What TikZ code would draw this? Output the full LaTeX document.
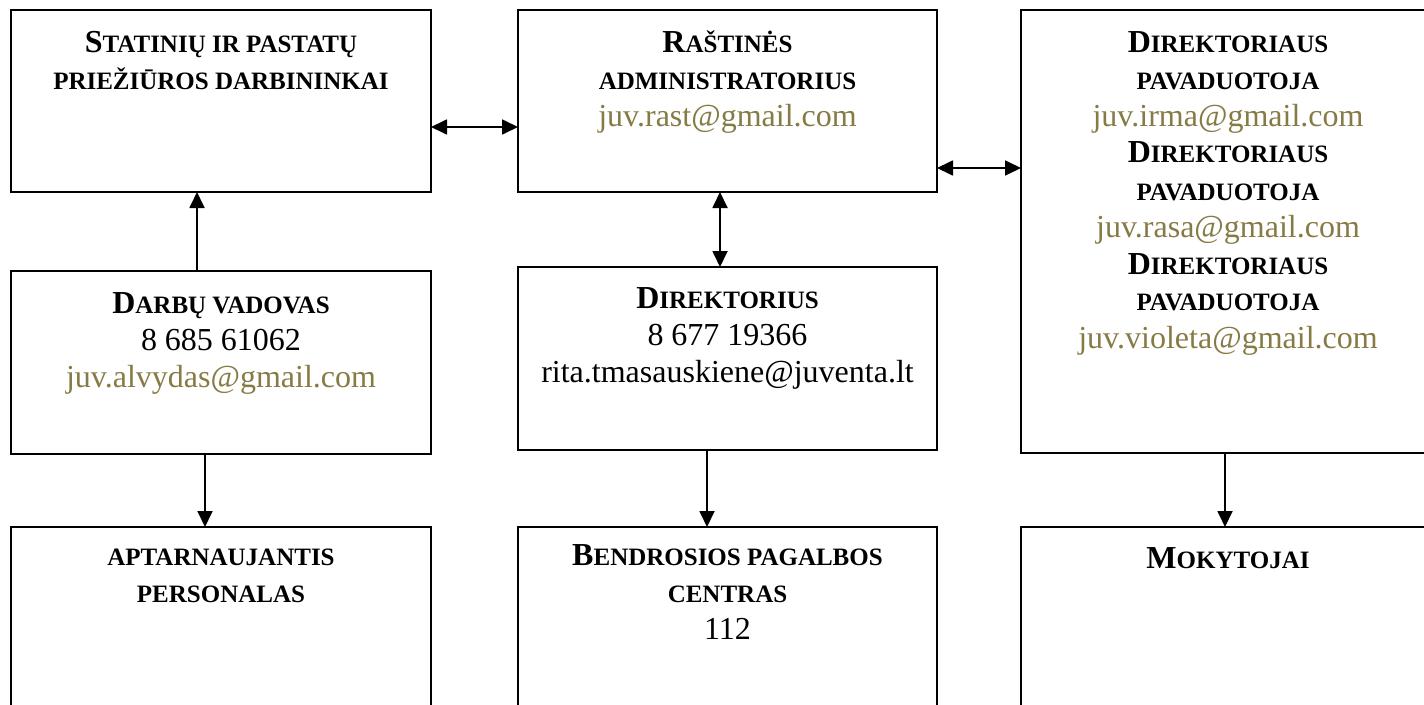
\documentclass[tikz,border=0pt]{standalone}
\usepackage{fontspec}
\setmainfont{Liberation Serif}
\usetikzlibrary{arrows.meta}
\definecolor{mail}{HTML}{877B45}
\newcommand\SCbig[1]{{\fontsize{32}{37}\selectfont #1}}
\newcommand\SCsm[1]{{\fontsize{25}{37}\selectfont #1}}
\newcommand\Mail[1]{{\mdseries\color{mail}#1}}
\tikzset{
  box/.style={draw, line width=1.8pt, rectangle, inner sep=0pt, outer sep=0pt},
  lbl/.style={anchor=base, inner sep=0pt, font=\fontsize{32}{37}\selectfont\bfseries},
  arr/.style={line width=1.8pt, -{Triangle[length=16pt,width=15pt]}},
  darr/.style={line width=1.8pt, {Triangle[length=16pt,width=15pt]}-{Triangle[length=16pt,width=15pt]}},
}
\begin{document}
\begin{tikzpicture}[x=1pt,y=-1pt]
\useasboundingbox (0,0) rectangle (1424,704);
\clip (0,0) rectangle (1424,704);
\fill[white] (0,0) rectangle (1424,704);
% boxes
\node[box, minimum width=420pt, minimum height=182pt] (b1) at (221,101) {};
\node[box, minimum width=419pt, minimum height=182pt] (b2) at (727.5,101) {};
\node[box, minimum width=414pt, minimum height=443pt] (b3) at (1228,231.5) {};
\node[box, minimum width=420pt, minimum height=183pt] (b4) at (221,362.5) {};
\node[box, minimum width=419pt, minimum height=183pt] (b5) at (727.5,358.5) {};
\node[box, minimum width=420pt, minimum height=200pt] (b6) at (221,627) {};
\node[box, minimum width=419pt, minimum height=200pt] (b7) at (727.5,627) {};
\node[box, minimum width=414pt, minimum height=200pt] (b8) at (1228,627) {};
% labels
\node[lbl] (t1) at ([yshift=-42pt]b1.north) {\begin{tabular}[t]{@{}c@{}}\SCbig{S}\SCsm{TATINIŲ IR PASTATŲ}\\ \SCsm{PRIEŽIŪROS DARBININKAI}\end{tabular}};
\node[lbl] (t2) at ([yshift=-42pt]b2.north) {\begin{tabular}[t]{@{}c@{}}\SCbig{R}\SCsm{AŠTINĖS}\\ \SCsm{ADMINISTRATORIUS}\\ \Mail{juv.rast@gmail.com}\end{tabular}};
\node[lbl] (t3) at ([yshift=-42pt]b3.north) {\begin{tabular}[t]{@{}c@{}}\SCbig{D}\SCsm{IREKTORIAUS}\\ \SCsm{PAVADUOTOJA}\\ \Mail{juv.irma@gmail.com}\\ \SCbig{D}\SCsm{IREKTORIAUS}\\ \SCsm{PAVADUOTOJA}\\ \Mail{juv.rasa@gmail.com}\\ \SCbig{D}\SCsm{IREKTORIAUS}\\ \SCsm{PAVADUOTOJA}\\ \Mail{juv.violeta@gmail.com}\end{tabular}};
\node[lbl] (t4) at ([yshift=-42pt]b4.north) {\begin{tabular}[t]{@{}c@{}}\SCbig{D}\SCsm{ARBŲ VADOVAS}\\ {\mdseries 8 685 61062}\\ \Mail{juv.alvydas@gmail.com}\end{tabular}};
\node[lbl] (t5) at ([yshift=-41pt]b5.north) {\begin{tabular}[t]{@{}c@{}}\SCbig{D}\SCsm{IREKTORIUS}\\ {\mdseries 8 677 19366}\\ {\mdseries rita.tmasauskiene@juventa.lt}\end{tabular}};
\node[lbl] (t6) at ([yshift=-38pt]b6.north) {\begin{tabular}[t]{@{}c@{}}\SCsm{APTARNAUJANTIS}\\ \SCsm{PERSONALAS}\end{tabular}};
\node[lbl] (t7) at ([yshift=-38pt]b7.north) {\begin{tabular}[t]{@{}c@{}}\SCbig{B}\SCsm{ENDROSIOS PAGALBOS}\\ \SCsm{CENTRAS}\\ {\mdseries 112}\end{tabular}};
\node[lbl] (t8) at ([yshift=-41pt]b8.north) {\begin{tabular}[t]{@{}c@{}}\SCbig{M}\SCsm{OKYTOJAI}\end{tabular}};
% connectors
\draw[arr] ([xshift=-24pt]b4.north) -- ([xshift=-24pt]b4.north |- b1.south);
\draw[arr] ([xshift=-16pt]b4.south) -- ([xshift=-16pt]b4.south |- b6.north);
\draw[darr] ([yshift=-26pt]b1.east) -- ([yshift=-26pt]b1.east -| b2.west);
\draw[darr] ([xshift=-7.5pt]b2.south) -- ([xshift=-7.5pt]b2.south |- b5.north);
\draw[darr] ([yshift=-67pt]b2.east) -- ([yshift=-67pt]b2.east -| b3.west);
\draw[arr] ([xshift=-20.5pt]b5.south) -- ([xshift=-20.5pt]b5.south |- b7.north);
\draw[arr] ([xshift=-3pt]b3.south) -- ([xshift=-3pt]b3.south |- b8.north);
\end{tikzpicture}
\end{document}
